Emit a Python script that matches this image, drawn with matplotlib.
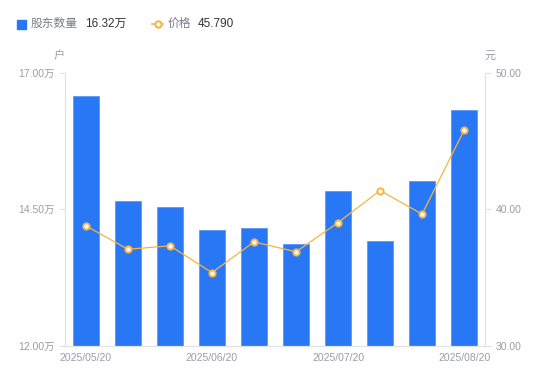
import matplotlib.pyplot as plt
from matplotlib.lines import Line2D

plt.rcParams['font.family'] = ['Liberation Sans', 'Noto Sans CJK SC', 'DejaVu Sans']

dates = ['2025/05/20', '2025/05/31', '2025/06/10', '2025/06/20', '2025/06/30',
         '2025/07/10', '2025/07/20', '2025/07/31', '2025/08/10', '2025/08/20']
holders = [16.57, 14.65, 14.54, 14.12, 14.16, 13.86, 14.84, 13.92, 15.02, 16.32]  # 万户
price = [38.79, 37.08, 37.33, 35.37, 37.62, 36.89, 39.03, 41.38, 39.65, 45.79]

left_ticks = [12.0, 14.5, 17.0]
right_ticks = [30.0, 40.0, 50.0]

blue = '#2878f5'
orange = '#f9b43f'
axis_col = '#e3e3e6'
label_col = '#9b9cab'

fig = plt.figure(figsize=(5.5, 3.81), dpi=100)
ax = fig.add_axes([0.118, 0.092, 0.764, 0.717])
ax2 = ax.twinx()

x = list(range(len(dates)))
ax.bar(x, [h - left_ticks[0] for h in holders], bottom=left_ticks[0], width=0.6,
       color=blue, edgecolor='#5b97f7', linewidth=0.6, zorder=2)
ax.set_xlim(-0.5, len(dates) - 0.5)
ax.set_ylim(12, 17)
ax.set_yticks(left_ticks)
ax.set_yticklabels([f'{v:.2f}万' for v in left_ticks])
ax.set_xticks(x[::3])
ax.set_xticklabels(dates[::3])

ax2.plot(x, price, color=orange, linewidth=0.9, marker='o', markersize=4.5,
         markerfacecolor='white', markeredgecolor=orange, markeredgewidth=1.4, zorder=3)
ax2.set_ylim(30, 50)
ax2.set_yticks(right_ticks)
ax2.set_yticklabels([f'{v:.2f}' for v in right_ticks])

for a in (ax, ax2):
    for s in a.spines.values():
        s.set_color(axis_col)
    a.spines['top'].set_visible(False)
    a.tick_params(colors=label_col, labelsize=7.5, length=4, width=0.8)
    a.tick_params(axis='y', colors=axis_col, labelcolor=label_col)
ax.tick_params(axis='x', length=0, pad=5)

fig.text(59 / 550, 1 - 56 / 381, '户', color=label_col, fontsize=8, ha='center', va='center')
fig.text(490 / 550, 1 - 56 / 381, '元', color=label_col, fontsize=8, ha='center', va='center')

# legend row
fig.patches.append(plt.Rectangle((17 / 550, 1 - 29 / 381), 9 / 550, 9 / 381,
                                 transform=fig.transFigure, color=blue))
fig.text(31 / 550, 1 - 24 / 381, '股东数量', color='#7a7b8a', fontsize=8.5, va='center')
fig.text(85 / 550, 1 - 24 / 381, '16.32万', color='#333333', fontsize=8.5, va='center')
fig.add_artist(Line2D([152 / 550, 163 / 550], [1 - 24 / 381] * 2, transform=fig.transFigure,
                      color=orange, linewidth=1.2))
fig.add_artist(Line2D([157.5 / 550], [1 - 24 / 381], transform=fig.transFigure,
                      color=orange, marker='o', markersize=4.5, markerfacecolor='white',
                      markeredgecolor=orange, markeredgewidth=1.5))
fig.text(168 / 550, 1 - 24 / 381, '价格', color='#7a7b8a', fontsize=8.5, va='center')
fig.text(198 / 550, 1 - 24 / 381, '45.790', color='#333333', fontsize=8.5, va='center')

fig.savefig('out.png', dpi=100)
